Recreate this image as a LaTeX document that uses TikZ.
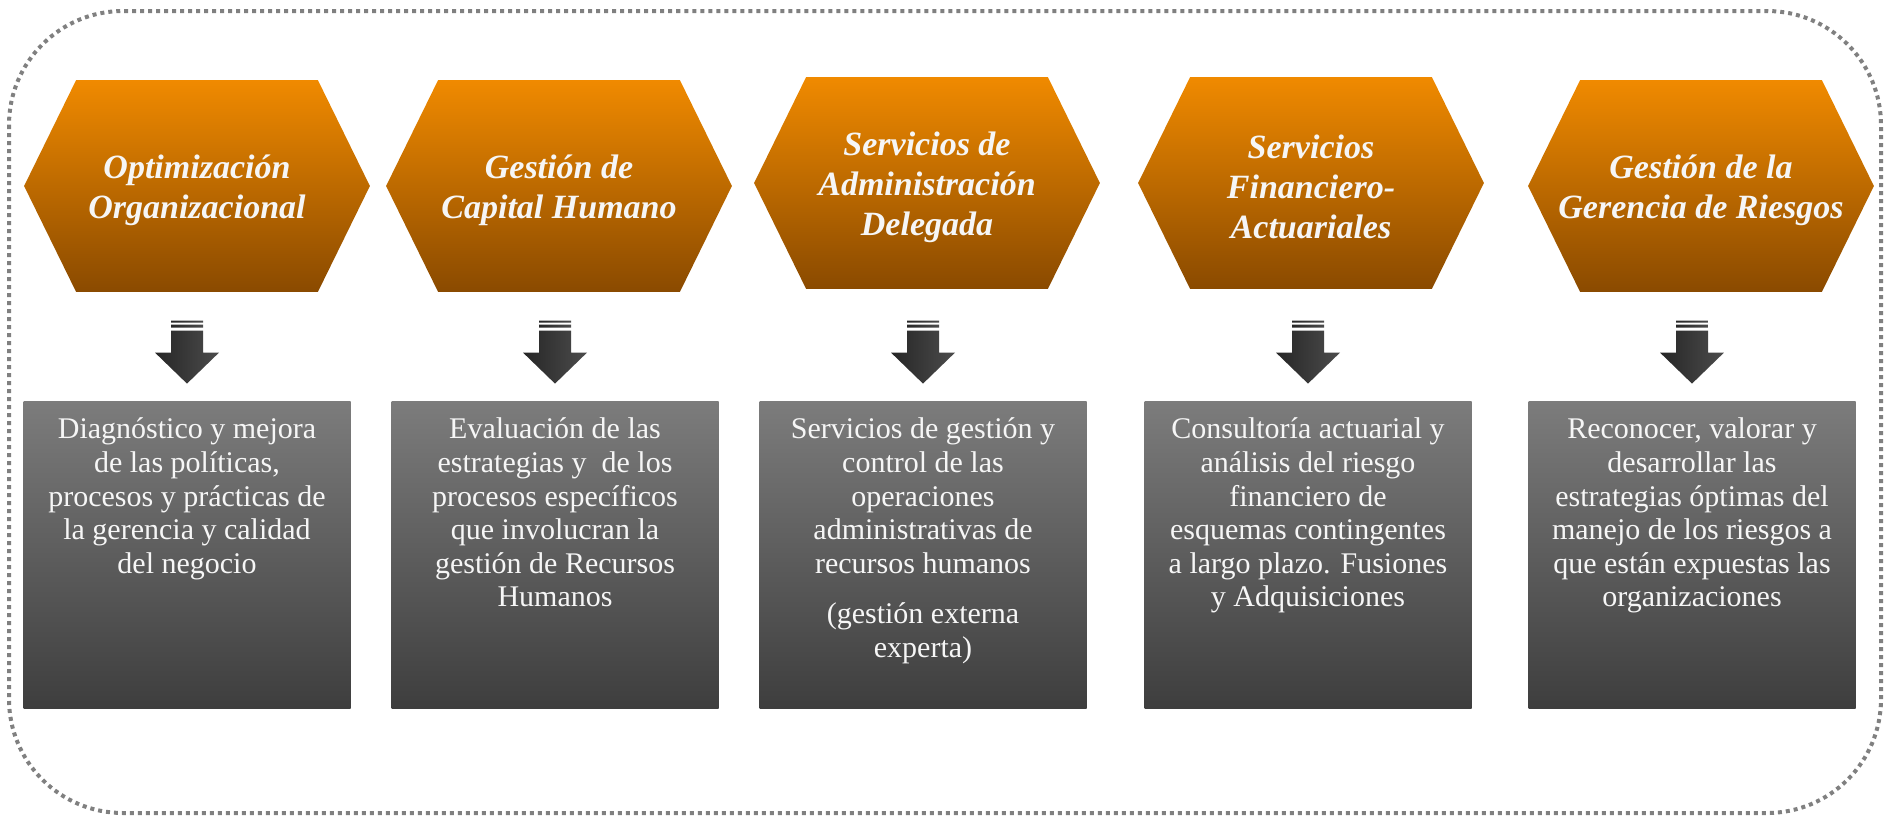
\documentclass[tikz,border=0pt]{standalone}
\usepackage{fontspec}
\setmainfont{Liberation Serif}
\usetikzlibrary{positioning,backgrounds}
\definecolor{hexTop}{RGB}{240,138,0}
\definecolor{hexBot}{RGB}{138,74,0}
\definecolor{boxTop}{RGB}{124,124,124}
\definecolor{boxBot}{RGB}{62,62,62}
\definecolor{arrL}{RGB}{38,38,38}
\definecolor{arrR}{RGB}{76,76,76}
\definecolor{frameGray}{RGB}{128,128,128}
\definecolor{txt}{RGB}{246,246,246}
\begin{document}
\begin{tikzpicture}[x=0.5pt,y=-0.5pt,
    hexa/.style={minimum width=172.5pt,minimum height=105.5pt,inner sep=0pt},
    hextext/.style={align=center,text=txt,inner sep=0pt,font=\fontsize{17}{20}\selectfont\bfseries\itshape},
    box/.style={minimum width=163.5pt,minimum height=153.5pt,inner sep=0pt,top color=boxTop,bottom color=boxBot},
    boxtext/.style={align=center,text=txt,inner sep=0pt,font=\fontsize{15}{16.8}\selectfont,execute at begin node=\strut}]
  \useasboundingbox (0,0) rectangle (1891,816);
  \draw[frameGray,line width=2pt,dash pattern=on 2pt off 2pt,rounded corners=57pt] (9,11) rectangle (1881,813);
  \node[hexa] (h1) at (197,186) {};
  \node[hexa] (h2) at (559,186) {};
  \node[hexa] (h3) at (927,183) {};
  \node[hexa] (h4) at (1311,183) {};
  \node[hexa] (h5) at (1701,186) {};
  \foreach \n in {h1,h2,h3,h4,h5}
    \shade[top color=hexTop,bottom color=hexBot] (\n.west) -- ([xshift=26pt]\n.north west) -- ([xshift=-26pt]\n.north east)
      -- (\n.east) -- ([xshift=-26pt]\n.south east) -- ([xshift=26pt]\n.south west) -- cycle;
  \node[hextext] (ht1) at ([yshift=-2pt]h1) {Optimización\\Organizacional};
  \node[hextext] (ht2) at ([yshift=-2pt]h2) {Gestión de\\Capital Humano};
  \node[hextext] (ht3) at ([yshift=-2pt]h3) {Servicios de\\Administración\\Delegada};
  \node[hextext] (ht4) at ([yshift=-2pt]h4) {Servicios\\Financiero-\\Actuariales};
  \node[hextext] (ht5) at ([yshift=-2pt]h5) {Gestión de la\\Gerencia de Riesgos};
  \node[box] (b1) at (187,554.5) {};
  \node[box] (b2) at (555,554.5) {};
  \node[box] (b3) at (923,554.5) {};
  \node[box] (b4) at (1308,554.5) {};
  \node[box] (b5) at (1692,554.5) {};
  \node[boxtext,below=8.5pt of b1.north] (t1) {Diagnóstico y mejora\\de las políticas,\\procesos y prácticas de\\la gerencia y calidad\\del negocio};
  \node[boxtext,below=8.5pt of b2.north] (t2) {Evaluación de las\\estrategias y~ de los\\procesos específicos\\que involucran la\\gestión de Recursos\\Humanos};
  \node[boxtext,below=8.5pt of b3.north] (t3) {Servicios de gestión y\\control de las\\operaciones\\administrativas de\\recursos humanos\\[8.5pt](gestión externa\\experta)};
  \node[boxtext,below=8.5pt of b4.north] (t4) {Consultoría actuarial y\\análisis del riesgo\\financiero de\\esquemas contingentes\\a largo plazo. Fusiones\\y Adquisiciones};
  \node[boxtext,below=8.5pt of b5.north] (t5) {Reconocer, valorar y\\desarrollar las\\estrategias óptimas del\\manejo de los riesgos a\\que están expuestas las\\organizaciones};
  \foreach \n in {b1,b2,b3,b4,b5}{
    \begin{scope}[shift={(\n.north)}]
      \shade[left color=arrL,right color=arrR] (-16,-70) -- (16,-70) -- (16,-48) -- (32,-48) -- (0,-17) -- (-32,-48) -- (-16,-48) -- cycle;
      \shade[left color=arrL,right color=arrR] (-16,-80) rectangle (16,-78) (-16,-76) rectangle (16,-73);
    \end{scope}}
\end{tikzpicture}
\end{document}
